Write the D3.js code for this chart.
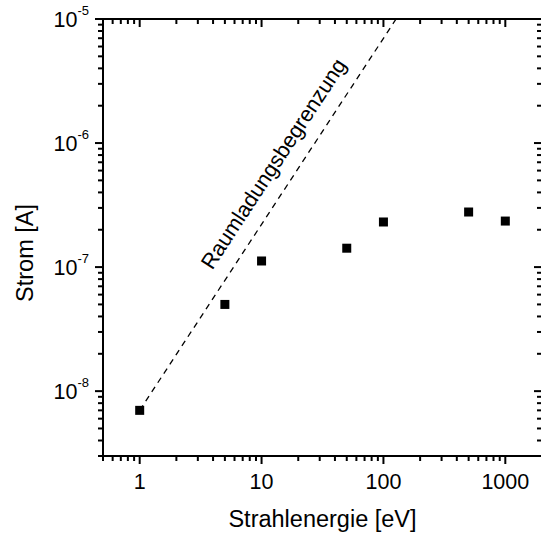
<!DOCTYPE html>
<head>
    <meta charset="utf-8">
    <title>Strom vs. Strahlenergie</title>
    <style>
        body { margin: 0; background: #fff; }
        text { font-family: "Liberation Sans", Arial, sans-serif; fill: #000; }
    </style>
</head>
<body>

<script src="https://cdn.jsdelivr.net/npm/d3@7"></script>

<script>
// Messwerte
let energy = [1, 5, 10, 50, 100, 500, 1000];
let current = [7.0e-9, 5.0e-8, 1.12e-7, 1.42e-7, 2.31e-7, 2.78e-7, 2.35e-7];

// Raumladungsbegrenzung (gestrichelte Linie, Endpunkte)
let limitEnergy = [1, 127];
let limitCurrent = [7.0e-9, 1e-5];

let xTicks = [1, 10, 100, 1000];
let yTickExp = [-8, -7, -6, -5];

let width = 541;
let height = 538;
let mLeft = 103, mRight = 542, mTop = 19, mBottom = 456;

let svg = d3.select("body").append("svg")
    .attr("width", width)
    .attr("height", height);

let x = d3.scaleLog().domain([0.5, 2000]).range([mLeft, mRight]);
let y = d3.scaleLog().domain([3e-9, 1e-5]).range([mBottom, mTop]);

// minor ticks (2..9 je Dekade)
function logTicks(scale) {
    let [a, b] = scale.domain();
    let out = [];
    for (let e = Math.floor(Math.log10(a)); e <= Math.ceil(Math.log10(b)); e++) {
        for (let m = 1; m < 10; m++) {
            let v = m * Math.pow(10, e);
            if (v >= a * 0.999 && v <= b * 1.001) out.push({v: v, major: m === 1});
        }
    }
    return out;
}
let xt = logTicks(x);
let yt = logTicks(y);

let axes = svg.append("g").attr("stroke", "#000").attr("stroke-width", 2);

// frame
axes.append("rect")
    .attr("x", mLeft).attr("y", mTop)
    .attr("width", mRight - mLeft).attr("height", mBottom - mTop)
    .attr("fill", "none");

// bottom (outward) and top (inward)
axes.selectAll(".xb")
    .data(xt)
    .join("line")
    .attr("class", "xb")
    .attr("x1", d => x(d.v)).attr("x2", d => x(d.v))
    .attr("y1", mBottom).attr("y2", d => mBottom + (d.major ? 8 : 5));
axes.selectAll(".xt")
    .data(xt)
    .join("line")
    .attr("class", "xt")
    .attr("x1", d => x(d.v)).attr("x2", d => x(d.v))
    .attr("y1", mTop).attr("y2", d => mTop + (d.major ? 8 : 5));

// left (outward) and right (inward)
axes.selectAll(".yl")
    .data(yt)
    .join("line")
    .attr("class", "yl")
    .attr("y1", d => y(d.v)).attr("y2", d => y(d.v))
    .attr("x1", mLeft).attr("x2", d => mLeft - (d.major ? 8 : 5));
axes.selectAll(".yr")
    .data(yt)
    .join("line")
    .attr("class", "yr")
    .attr("y1", d => y(d.v)).attr("y2", d => y(d.v))
    .attr("x1", mRight).attr("x2", d => mRight - (d.major ? 8 : 5));

// x tick labels
svg.selectAll(".xlabel")
    .data(xTicks)
    .join("text")
    .attr("class", "xlabel")
    .attr("x", d => x(d))
    .attr("y", mBottom + 33)
    .attr("text-anchor", "middle")
    .style("font-size", "21.5px")
    .text(d => d);

// y tick labels  10^n
let yl = svg.selectAll(".ylabel")
    .data(yTickExp)
    .join("text")
    .attr("class", "ylabel")
    .attr("x", 89)
    .attr("y", d => y(Math.pow(10, d)) + 8)
    .attr("text-anchor", "end")
    .style("font-size", "21.5px");
yl.append("tspan").text("10");
yl.append("tspan")
    .attr("dy", -12)
    .style("font-size", "13px")
    .text(d => d === 0 ? "0" : "-" + Math.abs(d));

// axis titles
svg.append("text")
    .attr("x", (mLeft + mRight) / 2)
    .attr("y", 527)
    .attr("text-anchor", "middle")
    .style("font-size", "23.5px")
    .text("Strahlenergie [eV]");

svg.append("text")
    .attr("transform", "translate(33,253) rotate(-90)")
    .attr("text-anchor", "middle")
    .style("font-size", "23.5px")
    .text("Strom [A]");

// Raumladungsbegrenzung
let plot = svg.append("g");
svg.append("clipPath").attr("id", "clip")
    .append("rect")
    .attr("x", mLeft).attr("y", mTop)
    .attr("width", mRight - mLeft).attr("height", mBottom - mTop);

let limitPts = limitEnergy.map((e, i) => [x(e), y(limitCurrent[i])]);
plot.append("path")
    .attr("clip-path", "url(#clip)")
    .attr("d", d3.line()(limitPts))
    .attr("fill", "none")
    .attr("stroke", "#000")
    .attr("stroke-width", 1.3)
    .attr("stroke-dasharray", "6,5");

let [p0, p1] = limitPts;
let ang = Math.atan2(p1[1] - p0[1], p1[0] - p0[0]) * 180 / Math.PI;
let t = 0.62;
let lx = p0[0] + (p1[0] - p0[0]) * t - 19;
let ly = p0[1] + (p1[1] - p0[1]) * t;
plot.append("text")
    .attr("transform", `translate(${lx},${ly}) rotate(${ang})`)
    .attr("text-anchor", "middle")
    .style("font-size", "21.5px")
    .text("Raumladungsbegrenzung");

// Messpunkte
let s = 9;
plot.selectAll(".dot")
    .data(energy.map((e, i) => ({e: e, c: current[i]})))
    .join("rect")
    .attr("class", "dot")
    .attr("x", d => x(d.e) - s / 2)
    .attr("y", d => y(d.c) - s / 2)
    .attr("width", s)
    .attr("height", s)
    .attr("fill", "#000");
</script>

</body>
